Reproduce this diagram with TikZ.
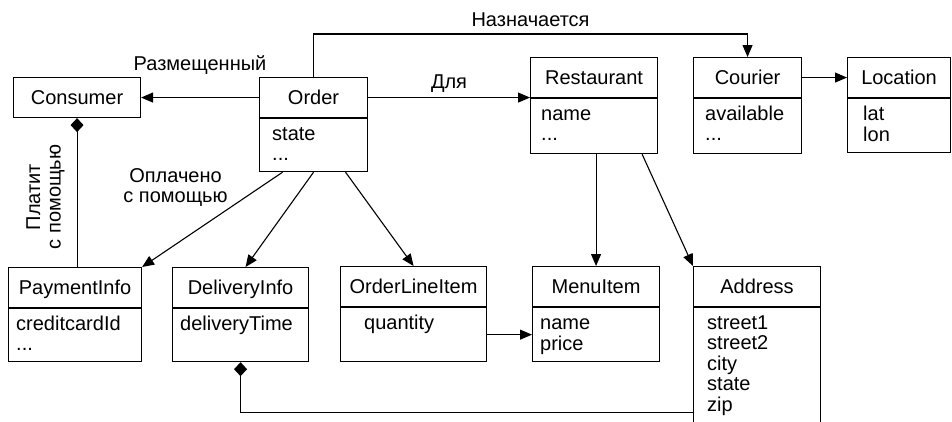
\documentclass[tikz,border=0pt]{standalone}
\usepackage[svgnames]{xcolor}
\usepackage{fontspec}
\setmainfont{Liberation Sans}
\usepackage{tikz}
\usetikzlibrary{arrows.meta}
\usetikzlibrary{positioning}
\tikzstyle{classhead}=[rectangle,draw=Black,line width=1.1pt,minimum height=40pt,inner sep=0pt,text height=14pt,text depth=0pt]
\tikzstyle{classbody}=[rectangle,draw=Black,line width=1.1pt,inner sep=0pt]
\tikzstyle{attrs}=[align=left,inner sep=0pt]
\tikzstyle{assoc}=[-{Triangle[length=12pt,width=10pt]},draw=Black,line width=1.1pt]
\tikzstyle{comp}=[{Diamond[length=14pt,width=13pt]}-,draw=Black,line width=1.1pt]
\newcommand*{\umlclass}[8]{
    \node [classhead, minimum width=#4pt, anchor=north west] (#1) at (#2,#3) {#6};
    \node [classbody, minimum width=#4pt, minimum height=#5pt, anchor=north west] (#1 body) at (#1.south west) {};
    \node [attrs, anchor=north west] (#1 attrs) at ([xshift=#7, yshift=-7.5pt]#1 body.north west) {\strut #8};
}

\begin{document}
\begin{tikzpicture}[x=1pt,y=-1pt,font=\fontsize{20}{20.5}\selectfont]
    \useasboundingbox (0,0) rectangle (952,421);

    \node [classhead, minimum width=127pt, anchor=north west] (consumer) at (13,77) {Consumer};
    \umlclass{order}{259}{77}{108}{53}{Order}{13pt}{state\\...}
    \umlclass{restaurant}{530}{57}{127}{55}{Restaurant}{11pt}{name\\...}
    \umlclass{courier}{693}{57}{108}{55}{Courier}{12pt}{available\\...}
    \umlclass{location}{847}{57}{103}{54}{Location}{16pt}{lat\\lon}
    \umlclass{paymentinfo}{8}{267}{133}{53}{PaymentInfo}{8pt}{creditcardId\\...}
    \umlclass{deliveryinfo}{172}{267}{136}{53}{DeliveryInfo}{8pt}{deliveryTime}
    \umlclass{orderlineitem}{340}{266}{146}{54}{OrderLineItem}{24pt}{quantity}
    \umlclass{menuitem}{532}{266}{127}{54}{MenuItem}{8pt}{name\\price}
    \umlclass{address}{693}{266}{127}{140}{Address}{14pt}{street1\\street2\\city\\state\\zip}

    \draw [assoc] (order.west) -- node [above=19pt] {Размещенный} (consumer.east);
    \draw [assoc] (order.east) -- node [above=1pt] {Для} (order.east -| restaurant.west);
    \draw [assoc] (order.north) -- ++(0,-43) -| node [pos=.25, above=3pt] {Назначается} (courier.north);
    \draw [assoc] (courier.east) -- (location.west);

    \draw [comp] (consumer.south) -- node [pos=.53, rotate=90, anchor=south, inner ysep=12pt, align=center] {Платит\\с помощью} (consumer.south |- paymentinfo.north);
    \draw [assoc] ([xshift=-31pt]order body.south) -- node [pos=.38, anchor=south east, inner sep=1pt, align=center] {Оплачено\\с помощью} (paymentinfo.north east);
    \draw [assoc] (order body.south) -- ([xshift=5pt]deliveryinfo.north);
    \draw [assoc] ([xshift=32pt]order body.south) -- (orderlineitem.north);

    \draw [assoc] (restaurant body.south -| menuitem.north) -- (menuitem.north);
    \draw [assoc] ([xshift=-16pt]restaurant body.south east) -- (address.north west);
    \draw [assoc] (orderlineitem body.east) -- (orderlineitem body.east -| menuitem.west);
    \draw [comp] (deliveryinfo body.south) |- ([yshift=-105pt]address body.north west);
\end{tikzpicture}
\end{document}
